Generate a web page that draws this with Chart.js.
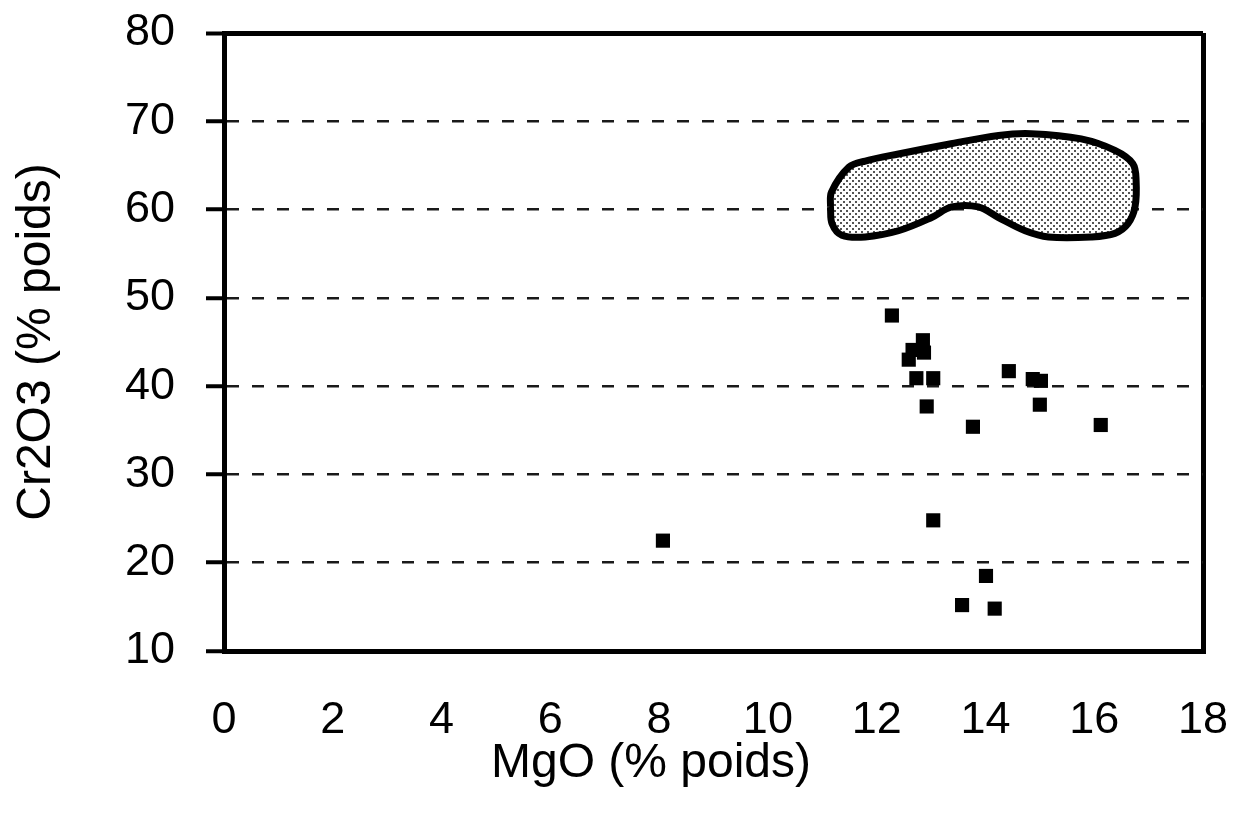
<!DOCTYPE html>
<html>
<head>
<meta charset="utf-8">
<script src="https://cdn.jsdelivr.net/npm/chart.js@4/dist/chart.umd.min.js"></script>
<style>
  html, body { margin: 0; padding: 0; background: #fff; }
  #wrap { width: 1234px; height: 814px; }
</style>
</head>
<body>
<div id="wrap"><canvas id="chromeChart"></canvas></div>
<script>
// Analyses : MgO (x) et Cr2O3 (y), % poids
const mgo = [8.07, 12.28, 12.85, 12.66, 12.87, 12.59, 12.73, 13.04, 12.92, 14.43, 14.87, 15.02, 15.00, 13.77, 16.12, 13.04, 14.01, 13.57, 14.17];
const cr2o3 = [22.5, 48.0, 45.2, 44.1, 43.8, 43.0, 40.9, 40.9, 37.7, 41.7, 40.8, 40.6, 37.9, 35.4, 35.6, 24.8, 18.5, 15.2, 14.8];

// Contour du champ grisé (en haut à droite)
const zoneMgo = [11.15, 11.17, 11.49, 11.79, 12.40, 13.32, 14.24, 14.84, 15.76, 16.38, 16.71, 16.77, 16.75, 16.62, 16.38, 15.94, 15.16, 14.73, 14.24, 13.87, 13.38, 13.01, 12.40, 11.79, 11.36, 11.18, 11.15];
const zoneCr = [60.3, 62.0, 64.8, 65.5, 66.3, 67.4, 68.4, 68.6, 68.0, 66.7, 65.2, 63.3, 60.3, 58.4, 57.3, 56.9, 56.9, 57.6, 59.1, 60.3, 60.3, 59.1, 57.6, 56.9, 57.1, 58.4, 60.3];

const xTicks = [0, 2, 4, 6, 8, 10, 12, 14, 16, 18];
const yTicks = [10, 20, 30, 40, 50, 60, 70, 80];

const xTitle = 'MgO (% poids)';
const yTitle = 'Cr2O3 (% poids)';

const fontFamily = '"Liberation Sans", Arial, sans-serif';

function toPoints(xs, ys) {
  return xs.map((x, i) => ({ x: x, y: ys[i] }));
}

// motif pointillé pour le remplissage
function dotPattern() {
  const c = document.createElement('canvas');
  c.width = 6;
  c.height = 6;
  const g = c.getContext('2d');
  g.fillStyle = '#fff';
  g.fillRect(0, 0, 6, 6);
  g.fillStyle = '#555';
  g.fillRect(0, 0, 2, 2);
  g.fillRect(3, 3, 2, 2);
  return g.createPattern(c, 'repeat');
}

// titre de l'axe X, un peu décalé à gauche comme sur l'original
const xTitlePlugin = {
  id: 'xTitle',
  afterDraw(chart) {
    const c = chart.ctx;
    c.save();
    c.font = '48px ' + fontFamily;
    c.fillStyle = '#000';
    c.textAlign = 'center';
    c.textBaseline = 'middle';
    c.fillText(xTitle, 651, 764);
    c.restore();
  }
};

const ctx = document.getElementById('chromeChart');

new Chart(ctx, {
  type: 'scatter',
  data: {
    datasets: [
      {
        label: 'Analyses',
        data: toPoints(mgo, cr2o3),
        pointStyle: 'rect',
        pointRadius: 10,
        pointBorderWidth: 0,
        pointBackgroundColor: '#000',
        backgroundColor: '#000'
      },
      {
        label: 'Champ',
        data: toPoints(zoneMgo, zoneCr),
        showLine: true,
        fill: 'shape',
        tension: 0.35,
        pointRadius: 0,
        borderColor: '#000',
        borderWidth: 7,
        backgroundColor: dotPattern()
      }
    ]
  },
  plugins: [xTitlePlugin],
  options: {
    responsive: true,
    maintainAspectRatio: false,
    animation: false,
    layout: { padding: { top: 33, right: 31, left: 0, bottom: 0 } },
    plugins: {
      legend: { display: false },
      tooltip: { enabled: false }
    },
    scales: {
      x: {
        type: 'linear',
        min: 0,
        max: 18,
        afterFit: (scale) => {
          scale.height = 163;
          scale.paddingLeft = 0;
          scale.paddingRight = 0;
        },
        afterBuildTicks: (scale) => { scale.ticks = xTicks.map(v => ({ value: v })); },
        border: { display: true, color: '#000', width: 5 },
        grid: {
          drawTicks: false,
          lineWidth: 5,
          color: (c) => (c.tick && c.tick.value === 18 ? '#000' : 'rgba(0,0,0,0)')
        },
        ticks: {
          padding: 43,
          color: '#000',
          font: { family: fontFamily, size: 45 }
        },
        title: { display: false }
      },
      y: {
        type: 'linear',
        min: 10,
        max: 80,
        afterFit: (scale) => {
          scale.width = 224;
          scale.paddingTop = 0;
          scale.paddingBottom = 0;
        },
        afterBuildTicks: (scale) => { scale.ticks = yTicks.map(v => ({ value: v })); },
        border: {
          display: true,
          color: '#000',
          width: 5,
          dash: (c) => (c.tick && (c.tick.value === 80 || c.tick.value === 10) ? [] : [12, 13])
        },
        grid: {
          color: (c) => (c.tick && (c.tick.value === 80 || c.tick.value === 10) ? '#000' : '#1a1a1a'),
          lineWidth: (c) => (c.tick && c.tick.value === 80 ? 5 : 2.5),
          tickColor: '#000',
          tickWidth: 4,
          tickLength: 18,
          tickBorderDash: []
        },
        ticks: {
          padding: 31,
          color: '#000',
          font: { family: fontFamily, size: 45 }
        },
        title: {
          display: true,
          text: yTitle,
          color: '#000',
          font: { family: fontFamily, size: 48, lineHeight: 1 },
          padding: { top: 13, bottom: 0 }
        }
      }
    }
  }
});
</script>
</body>
</html>
